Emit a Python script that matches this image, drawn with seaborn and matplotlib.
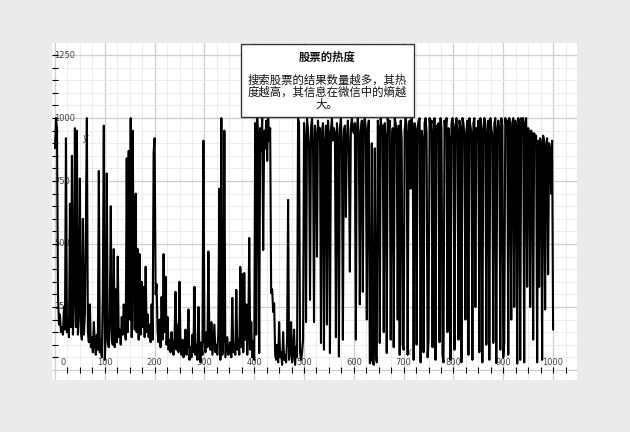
import numpy as np
import pandas as pd
import matplotlib
matplotlib.use("Agg")
import matplotlib.pyplot as plt
import seaborn as sns
from matplotlib.patches import Rectangle

# ---- data (one value every 2 units of x) ----
seg_000 = [880, 1000, 960, 300, 180, 220, 150, 170, 140, 250, 160, 920, 150, 200, 130, 660, 170, 850, 140, 300,
           960, 170, 950, 140, 230, 760, 150, 120, 600, 140, 220, 580, 1000, 150, 110, 260, 90, 130, 70, 190,
           100, 60, 140, 80, 790, 70, 120, 50, 300, 970]
seg_100 = [40, 140, 780, 110, 90, 200, 650, 120, 100, 480, 90, 320, 110, 450, 130, 160, 100, 210, 140, 260,
           180, 120, 840, 150, 870, 200, 1000, 130, 950, 420, 160, 700, 150, 480, 120, 460, 140, 350, 170, 330,
           130, 410, 150, 220, 130, 180, 110, 260, 120, 865]
seg_200 = [920, 300, 340, 150, 110, 200, 90, 290, 120, 460, 150, 370, 100, 210, 80, 120, 70, 150, 90, 60,
           130, 310, 80, 180, 70, 350, 100, 60, 120, 50, 90, 160, 60, 110, 240, 40, 90, 50, 140, 70,
           330, 60, 100, 40, 250, 80, 30, 110, 60, 910]
seg_300 = [120, 70, 150, 90, 470, 110, 80, 190, 60, 120, 180, 70, 100, 60, 160, 720, 40, 1000, 60, 120,
           950, 50, 90, 130, 60, 80, 110, 50, 286, 70, 100, 60, 318, 80, 120, 60, 409, 90, 380, 70,
           385, 120, 260, 60, 150, 524, 80, 190, 50, 115]
seg_400 = [40, 980, 140, 1000, 900, 67, 960, 870, 1000, 476, 950, 880, 990, 830, 1000, 910, 960, 305, 320, 230,
           265, 60, 40, 100, 30, 190, 50, 70, 20, 150, 40, 60, 30, 120, 675, 40, 80, 190, 30, 60,
           160, 20, 90, 50, 1000, 980, 70, 40, 67, 120]
seg_500 = [980, 920, 190, 1000, 950, 890, 278, 960, 1000, 900, 190, 970, 930, 450, 990, 920, 960, 107, 940, 980,
           80, 900, 970, 180, 990, 930, 67, 950, 1000, 910, 960, 940, 130, 980, 920, 53, 960, 1000, 890, 120,
           950, 970, 607, 920, 990, 880, 390, 960, 1000, 950]
seg_600 = [940, 980, 120, 960, 1000, 930, 260, 950, 990, 310, 980, 1000, 960, 200, 940, 990, 26, 40, 900, 30,
           20, 880, 60, 30, 990, 960, 107, 1000, 940, 970, 150, 980, 920, 67, 1000, 950, 990, 120, 900, 960,
           90, 1000, 980, 930, 200, 970, 60, 990, 920, 100]
seg_700 = [80, 950, 1000, 970, 60, 940, 990, 720, 1000, 960, 40, 980, 950, 100, 960, 990, 1000, 30, 950, 920,
           70, 980, 1000, 940, 50, 120, 1000, 960, 990, 90, 940, 1000, 40, 970, 930, 980, 110, 1000, 960, 60,
           30, 990, 950, 1000, 150, 960, 920, 40, 980, 1000]
seg_800 = [960, 80, 970, 1000, 940, 120, 990, 960, 30, 1000, 980, 930, 200, 950, 990, 60, 1000, 970, 940, 40,
           980, 1000, 250, 960, 920, 990, 70, 1000, 950, 30, 960, 1000, 980, 100, 940, 990, 40, 1000, 960, 930,
           107, 980, 1000, 27, 950, 990, 960, 80, 1000, 970]
seg_900 = [50, 107, 1000, 970, 990, 60, 1000, 960, 200, 980, 1000, 250, 990, 970, 25, 1000, 980, 40, 1000, 990,
           1000, 30, 980, 1000, 330, 960, 940, 250, 950, 930, 120, 940, 920, 930, 30, 910, 330, 920, 900, 40,
           930, 910, 240, 890, 920, 380, 900, 880, 700, 910]
last_value = [160]

values = seg_000 + seg_100 + seg_200 + seg_300 + seg_400 + seg_500 + seg_600 + seg_700 + seg_800 + seg_900 + last_value
x_values = list(range(0, 1001, 2))

x_tick_labels = ["0", "100", "200", "300", "400", "500", "600", "700", "800", "900", "1000"]
y_tick_labels = ["250", "500", "750", "1000", "1250"]
box_title = "股票的热度"
box_lines = ["搜索股票的结果数量越多，其热", "度越高，其信息在微信中的熵越", "大。"]

# ---- style ----
sns.set_style("white")
plt.rcParams["font.family"] = ["Noto Sans CJK SC", "DejaVu Sans"]

W, H = 630, 432
fig = plt.figure(figsize=(6.3, 4.32), dpi=100, facecolor="#ebebeb")
ax = fig.add_axes([52 / W, 1 - 380 / H, (577 - 52) / W, (380 - 43) / H])
ax.set_facecolor("white")

df = pd.DataFrame({"x": x_values, "y": values})
sns.lineplot(data=df, x="x", y="y", ax=ax, color="black", linewidth=1.5, zorder=3, sort=False)

ax.set_xlim(-6, 1048)
ax.set_ylim(-40, 1298)
for s in ax.spines.values():
    s.set_visible(False)
ax.set_xlabel("")
ax.set_ylabel("")

ax.set_xticks([int(t) for t in x_tick_labels])
ax.set_xticks(np.arange(0, 1049, 25), minor=True)
ax.set_yticks([0] + [int(t) for t in y_tick_labels])
ax.set_yticks(np.arange(0, 1299, 50), minor=True)
ax.grid(which="major", color="#cfcfcf", linewidth=0.9, zorder=0)
ax.grid(which="minor", color="#e9e9e9", linewidth=0.6, zorder=0)
ax.tick_params(which="both", length=0, labelbottom=False, labelleft=False)

# tick labels drawn inside the plot
for t in x_tick_labels:
    v = int(t)
    xpos = 16 if v == 0 else v
    ax.text(xpos, 30, t, ha="center", va="center", fontsize=6, color="#444444",
            family=["DejaVu Sans"], zorder=2)
for t in y_tick_labels:
    ax.text(-2, int(t), t, ha="left", va="center", fontsize=6, color="#444444",
            family=["DejaVu Sans"], zorder=2)

# axis lines with arrows
ax.annotate("", xy=(1050, 0), xytext=(-6, 0),
            arrowprops=dict(arrowstyle="-|>", color="black", lw=1.0, mutation_scale=8), zorder=4)
ax.annotate("", xy=(0, 1300), xytext=(0, -40),
            arrowprops=dict(arrowstyle="-|>", color="black", lw=1.0, mutation_scale=8), zorder=4)
xt = np.arange(25, 1049, 25)
yt = np.arange(50, 1299, 50)
ax.plot(xt, np.zeros(len(xt)), linestyle="none", marker="|", markersize=5, color="black",
        markeredgewidth=0.8, zorder=4, clip_on=False)
ax.plot(np.zeros(len(yt)), yt, linestyle="none", marker="_", markersize=5, color="black",
        markeredgewidth=0.8, zorder=4, clip_on=False)

# axis letters
ax.text(60, 921, "y", fontsize=7, color="#666666", style="italic", ha="center", va="center",
        family=["DejaVu Sans"], zorder=2)
ax.text(709, 71, "x", fontsize=7, color="#666666", style="italic", ha="center", va="center",
        family=["DejaVu Sans"], zorder=2)

# annotation box (figure pixel coordinates)
def fx(px):
    return px / W

def fy(py):
    return 1 - py / H

rect = Rectangle((fx(241), fy(117)), fx(414) - fx(241), fy(44) - fy(117), transform=fig.transFigure,
                 facecolor="white", edgecolor="#333333", linewidth=1.0, zorder=10)
fig.patches.append(rect)
fig.text(fx(327), fy(57), box_title, ha="center", va="center", fontsize=8.2, fontweight="bold",
         color="#111111", zorder=11)
for i, line in enumerate(box_lines):
    fig.text(fx(327), fy(80 + 12 * i), line, ha="center", va="center", fontsize=8.2,
             color="#111111", zorder=11)

fig.savefig("out.png", dpi=100, facecolor=fig.get_facecolor())
